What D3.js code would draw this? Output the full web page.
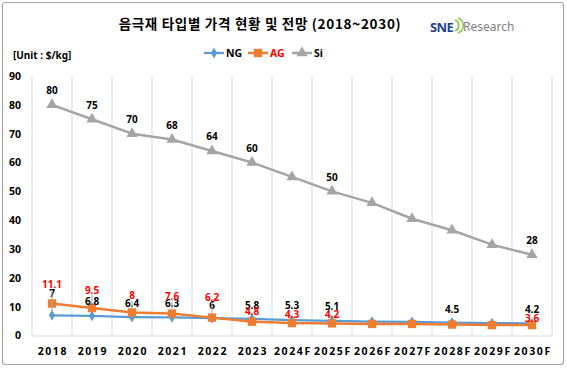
<!DOCTYPE html>
<html>
<head>
<meta charset="utf-8">
<script src="https://cdn.jsdelivr.net/npm/d3@7"></script>
<style>
  body { margin: 0; background: #fff; }
  text { font-family: "Noto Sans", "Noto Sans CJK KR", sans-serif; }
</style>
</head>
<body>
<div id="wrapper"></div>
<script>
// categories and series values
var years = ["2018", "2019", "2020", "2021", "2022", "2023", "2024F", "2025F", "2026F", "2027F", "2028F", "2029F", "2030F"];
var ngValues = [7, 6.8, 6.4, 6.3, 6, 5.8, 5.3, 5.1, 4.8, 4.7, 4.5, 4.3, 4.2];
var agValues = [11.1, 9.5, 8, 7.6, 6.2, 4.8, 4.3, 4.2, 4.0, 4.0, 3.8, 3.6, 3.6];
var siValues = [80, 75, 70, 68, 64, 60, 55, 50, 46, 40.5, 36.5, 31.5, 28];
// data labels shown in the picture (null = no label)
var ngLabels = ["7", "6.8", "6.4", "6.3", "6", "5.8", "5.3", "5.1", null, null, "4.5", null, "4.2"];
var agLabels = ["11.1", "9.5", "8", "7.6", "6.2", "4.8", "4.3", "4.2", null, null, null, null, "3.6"];
var siLabels = ["80", "75", "70", "68", "64", "60", null, "50", null, null, null, null, "28"];
var yTicks = [0, 10, 20, 30, 40, 50, 60, 70, 80, 90];

// label offsets (px, from the point) - moved by hand in the original
var ngLabelDy = [-22, -14, -14, -14, -13, -13, -15, -14, 0, 0, -13, 0, -14];
var agLabelDy = [-19, -18, -17, -17, -20, -10, -9, -9, 0, 0, 0, 0, -7];

var width = 567, height = 368;

var svg = d3.select("#wrapper").append("svg")
    .attr("width", width)
    .attr("height", height);

// outer frame
svg.append("rect")
    .attr("x", 2.5).attr("y", 2.5)
    .attr("width", 561).attr("height", 362)
    .attr("rx", 3)
    .attr("fill", "#fff")
    .attr("stroke", "#a6a6a6")
    .attr("stroke-width", 1.2);

// set the ranges
var x = d3.scaleBand()
    .domain(years)
    .range([32, 552])
    .padding(0);

var y = d3.scaleLinear()
    .domain([0, 90])
    .range([335.5, 76]);

// vertical gridlines at category edges
var edges = years.map(function (d) { return x(d); }).concat([x.range()[1]]);
svg.append("g").selectAll("line")
    .data(edges)
  .enter().append("line")
    .attr("x1", function (d) { return d; })
    .attr("x2", function (d) { return d; })
    .attr("y1", y(90))
    .attr("y2", y(0))
    .attr("stroke", "#d9d9d9")
    .attr("stroke-width", 1);

// x axis
var xAxis = svg.append("g")
    .attr("transform", "translate(0," + y(0) + ")")
    .call(d3.axisBottom(x).tickSize(0).tickPadding(12));
xAxis.select(".domain").attr("stroke", "#d9d9d9").attr("stroke-width", 1);
xAxis.selectAll("text")
    .attr("fill", "#000")
    .style("font-size", "10.5px")
    .style("font-weight", "bold")
    .style("letter-spacing", "1.6px")
    .attr("dx", "0.08em");

// y axis
var yAxis = svg.append("g")
    .attr("transform", "translate(" + x.range()[0] + ",0)")
    .call(d3.axisLeft(y).tickValues(yTicks).tickSize(0).tickPadding(11));
yAxis.select(".domain").remove();
yAxis.selectAll("text")
    .attr("fill", "#000")
    .style("font-size", "10.5px")
    .style("font-weight", "bold");

var cx = function (i) { return x(years[i]) + x.bandwidth() / 2; };

var series = [
  { name: "NG", values: ngValues, color: "#5b9bd5", shape: d3.symbolDiamond, size: 34, width: 2.25 },
  { name: "AG", values: agValues, color: "#ed7d31", shape: d3.symbolSquare, size: 70, width: 2.5 },
  { name: "Si", values: siValues, color: "#a5a5a5", shape: d3.symbolTriangle, size: 55, width: 2.5 }
];

var line = d3.line()
    .x(function (d, i) { return cx(i); })
    .y(function (d) { return y(d); });

series.forEach(function (s) {
  svg.append("path")
      .datum(s.values)
      .attr("fill", "none")
      .attr("stroke", s.color)
      .attr("stroke-width", s.width)
      .attr("stroke-linejoin", "round")
      .attr("d", line);

  svg.append("g").selectAll("path")
      .data(s.values)
    .enter().append("path")
      .attr("transform", function (d, i) { return "translate(" + cx(i) + "," + y(d) + ")"; })
      .attr("d", d3.symbol().type(s.shape).size(s.size))
      .attr("fill", s.color);
});

// leader lines + data labels
function addLabels(values, labels, dys, color) {
  var g = svg.append("g");
  values.forEach(function (v, i) {
    if (!labels[i]) return;
    var py = y(v), ly = py + dys[i];
    if (Math.abs(dys[i]) > 15) {
      g.append("line")
          .attr("x1", cx(i)).attr("x2", cx(i))
          .attr("y1", ly + 5).attr("y2", py - 3)
          .attr("stroke", "#a6a6a6")
          .attr("stroke-width", 1);
    }
    g.append("text")
        .attr("x", cx(i))
        .attr("y", ly)
        .attr("dy", "0.35em")
        .attr("text-anchor", "middle")
        .attr("fill", color)
        .style("font-size", "10px")
        .style("font-weight", "bold")
        .text(labels[i]);
  });
}
addLabels(siValues, siLabels, siValues.map(function () { return -14; }), "#000");
addLabels(ngValues, ngLabels, ngLabelDy, "#000");
addLabels(agValues, agLabels, agLabelDy, "#ff0000");

// title
svg.append("text")
    .attr("x", 260)
    .attr("y", 29)
    .attr("text-anchor", "middle")
    .style("font-family", "'Noto Sans CJK KR', sans-serif")
    .style("font-size", "13.5px")
    .style("font-weight", "bold")
    .style("letter-spacing", "0.7px")
    .text("음극재 타입별 가격 현황 및 전망 (2018~2030)");

// logo
var logo = svg.append("g").attr("transform", "translate(430,32)");
logo.append("text")
    .attr("x", 0).attr("y", 0)
    .style("font-size", "13px")
    .style("font-weight", "bold")
    .style("letter-spacing", "-0.6px")
    .attr("fill", "#1f3f8f")
    .text("SNE");
logo.append("path")
    .attr("d", "M25,-12 A6,6 0 0 1 25,-1")
    .attr("fill", "none").attr("stroke", "#8dc63f").attr("stroke-width", 1.8);
logo.append("path")
    .attr("d", "M28,-14 A8,8 0 0 1 28,1")
    .attr("fill", "none").attr("stroke", "#8dc63f").attr("stroke-width", 1.5);
logo.append("text")
    .attr("x", 33).attr("y", -1)
    .style("font-size", "12px")
    .attr("fill", "#7f7f7f")
    .text("Research");

// unit
svg.append("text")
    .attr("x", 13)
    .attr("y", 55)
    .attr("dy", "0.35em")
    .style("font-size", "10px")
    .style("font-weight", "bold")
    .text("[Unit : $/kg]");

// legend
var legendX = [204, 248, 292];
var legend = svg.append("g");
series.forEach(function (s, i) {
  var lx = legendX[i], ly = 53;
  legend.append("line")
      .attr("x1", lx).attr("x2", lx + 20)
      .attr("y1", ly).attr("y2", ly)
      .attr("stroke", s.color)
      .attr("stroke-width", s.width);
  legend.append("path")
      .attr("transform", "translate(" + (lx + 10) + "," + ly + ")")
      .attr("d", d3.symbol().type(s.shape).size(s.size))
      .attr("fill", s.color);
  legend.append("text")
      .attr("x", lx + 22)
      .attr("y", ly)
      .attr("dy", "0.36em")
      .attr("fill", s.name === "AG" ? "#ff0000" : "#000")
      .style("font-size", "10.5px")
      .style("font-weight", "bold")
      .text(s.name);
});
</script>
</body>
</html>
